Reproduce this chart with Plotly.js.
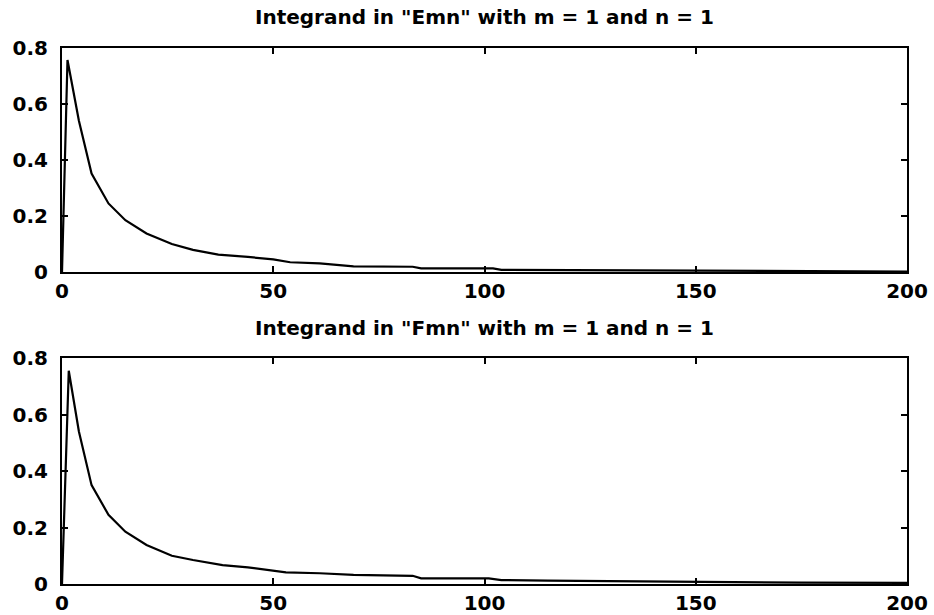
<!DOCTYPE html>
<html>
<head>
<meta charset="utf-8">
<script src="https://cdn.plot.ly/plotly-3.0.1.min.js"></script>
<style>html,body{margin:0;padding:0;background:#fff;}#chart{width:934px;height:615px;}</style>
</head>
<body>
<div id="chart"></div>
<script>
// Top panel: Integrand in "Emn"
const emnX = [0, 1.3, 4, 5.5, 7, 11, 15, 20, 26, 31, 37, 44, 50, 54, 61, 69, 83, 85, 102, 104, 130, 150, 175, 200];
const emnY = [0, 0.757, 0.54, 0.44, 0.352, 0.245, 0.185, 0.138, 0.100, 0.079, 0.062, 0.054, 0.045, 0.035, 0.031, 0.020, 0.019, 0.013, 0.013, 0.008, 0.006, 0.004, 0.002, 0.002];
// Bottom panel: Integrand in "Fmn"
const fmnX = [0, 1.6, 4, 5.5, 7, 11, 15, 20, 26, 31, 38, 44, 49, 53, 61, 69, 83, 85, 101, 104, 115, 130, 150, 175, 200];
const fmnY = [0, 0.755, 0.54, 0.44, 0.35, 0.245, 0.185, 0.138, 0.10, 0.085, 0.067, 0.059, 0.05, 0.041, 0.038, 0.032, 0.029, 0.02, 0.02, 0.014, 0.012, 0.01, 0.007, 0.005, 0.004];
const titles = ['Integrand in "Emn" with m = 1 and n = 1', 'Integrand in "Fmn" with m = 1 and n = 1'];
const xTicks = [0, 50, 100, 150, 200];
const yTicks = [0, 0.2, 0.4, 0.6, 0.8];

const fontFam = 'DejaVu Sans, Liberation Sans, Arial, sans-serif';
const tickFont = {family: fontFam, size: 20, color: '#000', weight: 'bold'};
const titleFont = {family: fontFam, size: 20, color: '#000', weight: 'bold'};

function axisX(anchor) {
  return {
    anchor: anchor, range: [0, 200], tickvals: xTicks, ticktext: xTicks.map(String),
    ticks: 'inside', ticklen: 6, tickwidth: 2, tickcolor: '#000', mirror: 'ticks',
    showline: true, linecolor: '#000', linewidth: 2, showgrid: false, zeroline: false,
    tickfont: tickFont, ticklabelstandoff: 0
  };
}
function axisY(anchor, domain) {
  return {
    anchor: anchor, domain: domain, range: [0, 0.8], tickvals: yTicks,
    ticktext: yTicks.map(v => v === 0 ? '0' : String(v)),
    ticks: 'inside', ticklen: 6, tickwidth: 2, tickcolor: '#000', mirror: 'ticks',
    showline: true, linecolor: '#000', linewidth: 2, showgrid: false, zeroline: false,
    tickfont: tickFont, ticklabelstandoff: 8
  };
}

const data = [
  {x: emnX, y: emnY, type: 'scatter', mode: 'lines', line: {color: '#000', width: 2.2}, xaxis: 'x', yaxis: 'y'},
  {x: fmnX, y: fmnY, type: 'scatter', mode: 'lines', line: {color: '#000', width: 2.2}, xaxis: 'x2', yaxis: 'y2'}
];

const topDomain = [0.582, 1];
const botDomain = [0, 0.4216];

const layout = {
  width: 934, height: 615,
  margin: {l: 62, r: 27, t: 48, b: 31},
  paper_bgcolor: '#fff', plot_bgcolor: '#fff',
  showlegend: false,
  xaxis: axisX('y'),
  yaxis: axisY('x', topDomain),
  xaxis2: axisX('y2'),
  yaxis2: axisY('x2', botDomain),
  annotations: [
    {text: titles[0], xref: 'paper', yref: 'paper', x: 0.5, y: topDomain[1], yshift: 31, xanchor: 'center', yanchor: 'middle', showarrow: false, font: titleFont},
    {text: titles[1], xref: 'paper', yref: 'paper', x: 0.5, y: botDomain[1], yshift: 30, xanchor: 'center', yanchor: 'middle', showarrow: false, font: titleFont}
  ]
};

Plotly.newPlot('chart', data, layout, {displayModeBar: false, staticPlot: true});
</script>
</body>
</html>
